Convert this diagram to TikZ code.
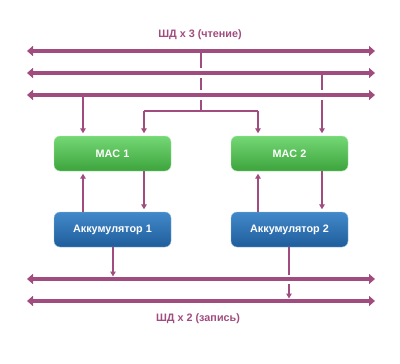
\documentclass[tikz,border=0pt]{standalone}
\usepackage{fontspec}
\setmainfont{Liberation Sans}
\usetikzlibrary{arrows.meta}
\definecolor{busc}{HTML}{A04C7E}
\definecolor{gtop}{HTML}{74D874}
\definecolor{gbot}{HTML}{3DA43D}
\definecolor{btop}{HTML}{4289C9}
\definecolor{bbot}{HTML}{1F5D9C}
\begin{document}
\begin{tikzpicture}[x=1pt,y=-1pt,
  bus/.style={busc, line width=4pt, {Triangle[width=10pt,length=6pt]}-{Triangle[width=10pt,length=6pt]}},
  link/.style={busc, line width=1.7pt},
  linkarrow/.style={link, -{Triangle[width=5.5pt,length=5pt]}, shorten >=2.5pt},
  box/.style={rounded corners=6pt, minimum width=117pt, minimum height=35pt, text=white,
    font=\bfseries\fontsize{10.8}{13}\selectfont, inner sep=0pt},
  macbox/.style={box, top color=gtop, bottom color=gbot, draw=gtop!60!white, line width=0.4pt},
  accbox/.style={box, top color=btop, bottom color=bbot, draw=btop!60!white, line width=0.4pt},
  buslabel/.style={busc, font=\bfseries\fontsize{10.8}{13}\selectfont}]
\useasboundingbox (0,0) rectangle (400,364);

% labels
\node[buslabel] (t1) at (200,35) {ШД x 3 (чтение)};
\node[buslabel] (t2) at (198,319) {ШД x 2 (запись)};

% read buses
\coordinate (r1L) at (27,51);  \coordinate (r1R) at (375,51);
\coordinate (r2L) at (27,73);  \coordinate (r2R) at (375,73);
\coordinate (r3L) at (27,95);  \coordinate (r3R) at (375,95);
% write buses
\coordinate (w1L) at (27,279); \coordinate (w1R) at (375,279);
\coordinate (w2L) at (27,301); \coordinate (w2R) at (375,301);

% boxes
\node[macbox] (mac1) at (112.5,153.5) {MAC 1};
\node[macbox] (mac2) at (289.5,153.5) {MAC 2};
\node[accbox] (acc1) at (112.5,229.5) {Аккумулятор 1};
\node[accbox] (acc2) at (289.5,229.5) {Аккумулятор 2};

% bus 1 drop (crossing buses 2 and 3)
\coordinate (d1) at (201,51);
\coordinate (j) at (201,111);
\coordinate (jl) at (144,111);
\coordinate (jr) at (258,111);
\draw[link] (d1) -- (201,68);
\draw[link] (201,78) -- (201,90);
\draw[link] (201,100) -- (j);
\draw[link] (jl) -- (jr);
\draw[linkarrow] (jl) -- (jl |- mac1.north);
\draw[linkarrow] (jr) -- (jr |- mac2.north);

% bus 2 drop (crossing bus 3)
\coordinate (d2) at (322,73);
\coordinate (d2b) at (322,100);
\draw[link] (d2) -- (322,90);
\draw[linkarrow] (d2b) -- (d2b |- mac2.north);

% bus 3 drop
\coordinate (d3) at (83,95);
\draw[linkarrow] (d3) -- (d3 |- mac1.north);

% MAC <-> accumulator
\coordinate (u1) at (83,0);  \coordinate (v1) at (144,0);
\coordinate (u2) at (258,0); \coordinate (v2) at (322,0);
\draw[linkarrow] (acc1.north -| u1) -- (mac1.south -| u1);
\draw[linkarrow] (mac1.south -| v1) -- (acc1.north -| v1);
\draw[linkarrow] (acc2.north -| u2) -- (mac2.south -| u2);
\draw[linkarrow] (mac2.south -| v2) -- (acc2.north -| v2);

% accumulators to write buses
\coordinate (o1) at (113,279);
\coordinate (o2) at (289,275);
\coordinate (o2b) at (289,284);
\coordinate (o2c) at (289,301);
\draw[linkarrow] (acc1.south -| o1) -- (o1);
\draw[link] (acc2.south -| o2) -- (o2);
\draw[linkarrow] (o2b) -- (o2c);

% buses on top
\draw[bus] (r1L) -- (r1R);
\draw[bus] (r2L) -- (r2R);
\draw[bus] (r3L) -- (r3R);
\draw[bus] (w1L) -- (w1R);
\draw[bus] (w2L) -- (w2R);
\end{tikzpicture}
\end{document}
